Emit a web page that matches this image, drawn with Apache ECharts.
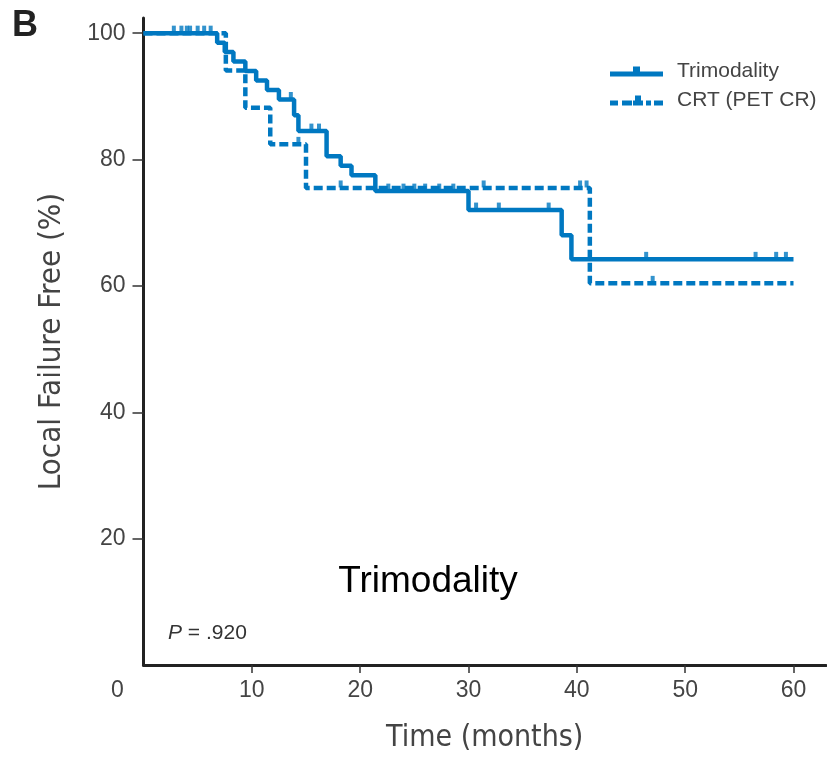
<!DOCTYPE html>
<html>
<head>
<meta charset="utf-8">
<script src="https://cdn.jsdelivr.net/npm/echarts@6.0.0/dist/echarts.min.js"></script>
<style>
  html, body { margin: 0; padding: 0; background: #fff; }
  #chart { width: 827px; height: 759px; }
</style>
</head>
<body>
<div id="chart"></div>
<script>
// Kaplan-Meier steps (time in months, % local failure free)
const trimoTimes = [0, 6.8, 7.5, 8.3, 9.4, 10.4, 11.4, 12.5, 13.9, 14.3, 16.9, 18.2, 19.2, 21.4, 30.0, 38.6, 39.5, 60];
const trimoValues = [100, 98.5, 97, 95.5, 94, 92.5, 91, 89.5, 87, 84.5, 80.5, 79, 77.5, 75, 72, 68, 64.2, 64.2];
const crtTimes = [0, 7.6, 9.4, 11.7, 15.0, 41.2, 60];
const crtValues = [100, 94.1, 88.2, 82.4, 75.5, 60.4, 60.4];

// censored observations (tick marks)
const trimoCensorTimes = [2.8, 3.5, 4.3, 5.0, 5.6, 6.2, 13.6, 15.5, 16.2, 22.6, 24.0, 25.0, 26.0, 27.3, 28.6, 30.7, 32.8, 37.4, 46.4, 56.5, 58.4, 59.3];
const trimoCensorValues = [100, 100, 100, 100, 100, 100, 89.5, 84.5, 84.5, 75, 75, 75, 75, 75, 75, 72, 72, 72, 64.2, 64.2, 64.2, 64.2];
const crtCensorTimes = [4.0, 14.3, 18.2, 31.4, 40.3, 40.9, 47.0];
const crtCensorValues = [100, 82.4, 75.5, 75.5, 75.5, 75.5, 60.4];

const xLabels = [0, 10, 20, 30, 40, 50, 60];
const xTicks = [10, 20, 30, 40, 50, 60];
const yTicks = [20, 40, 60, 80, 100];

const blue = "#0078c1";
const narrow = "'Liberation Sans Narrow', 'Arial Narrow', 'DejaVu Sans Condensed', sans-serif";
const sans = "'Liberation Sans', Arial, sans-serif";

function pairs(xs, ys) {
  return xs.map((x, i) => [x, ys[i]]);
}

const solidIcon = "path://M0,5H53V10H0Z M23,0H30V5H23Z";
const dashIcon = "path://M0,5H8V10H0Z M12,5H22V10H12Z M23,5H33V10H23Z M25,0H31V5H25Z M36,5H41V10H36Z M44,5H53V10H44Z";

const myChart = echarts.init(document.getElementById("chart"));
myChart.setOption({
  animation: false,
  grid: { left: 143.5, right: 1, top: 18, bottom: 94 },
  legend: {
    orient: "vertical",
    left: 605,
    top: 56,
    itemWidth: 53,
    itemHeight: 10,
    itemGap: 8,
    itemStyle: { borderWidth: 0 },
    data: [
      { name: "Trimodality", icon: solidIcon },
      { name: "CRT (PET CR)", icon: dashIcon }
    ],
    textStyle: { fontSize: 21, color: "#444", fontFamily: sans, padding: [0, 0, 0, 9] }
  },
  xAxis: {
    type: "value",
    min: 0,
    max: 63,
    name: "Time (months)",
    nameLocation: "middle",
    nameGap: 58,
    nameTextStyle: { fontSize: 30, color: "#444", fontFamily: narrow },
    axisLine: { lineStyle: { color: "#222", width: 3 } },
    axisTick: { show: true, length: 8, customValues: xTicks, lineStyle: { color: "#333", width: 1.5 } },
    axisLabel: {
      customValues: xLabels,
      margin: 14,
      fontSize: 23,
      color: "#444",
      fontFamily: sans,
      // the "0" sits left of the axis corner in the original
      formatter: function (v) {
        return v === 0 ? "{z|0}" : String(v);
      },
      rich: { z: { fontSize: 23, color: "#444", fontFamily: sans, padding: [0, 52, 0, 0] } }
    },
    splitLine: { show: false }
  },
  yAxis: {
    type: "value",
    min: 0,
    max: 102.4,
    name: "Local Failure Free (%)",
    nameLocation: "middle",
    nameGap: 76,
    nameTextStyle: { fontSize: 31, color: "#444", fontFamily: narrow },
    axisLine: { show: true, lineStyle: { color: "#222", width: 3 } },
    axisTick: { show: true, length: 11, customValues: yTicks, lineStyle: { color: "#333", width: 1.5 } },
    axisLabel: { customValues: yTicks, margin: 18, fontSize: 23, color: "#444", fontFamily: sans },
    splitLine: { show: false }
  },
  graphic: [
    {
      type: "text", left: 12, top: 8,
      style: { text: "B", fontSize: 36, fontWeight: "bold", fill: "#222", fontFamily: sans }
    },
    {
      type: "text", x: 428, y: 582,
      style: { text: "Trimodality", fontSize: 37, fill: "#000", fontFamily: sans, align: "center", verticalAlign: "middle" }
    },
    {
      type: "text", x: 168, y: 633,
      style: {
        text: "{i|P} = .920",
        fontSize: 21, fill: "#333", fontFamily: sans, verticalAlign: "middle",
        rich: { i: { fontStyle: "italic", fontSize: 21, fill: "#333", fontFamily: sans } }
      }
    }
  ],
  series: [
    {
      name: "Trimodality",
      type: "line",
      step: "end",
      showSymbol: false,
      color: blue,
      lineStyle: { color: blue, width: 4.5 },
      data: pairs(trimoTimes, trimoValues)
    },
    {
      name: "CRT (PET CR)",
      type: "line",
      step: "end",
      showSymbol: false,
      color: blue,
      lineStyle: { color: blue, width: 4.5, type: [9, 4] },
      data: pairs(crtTimes, crtValues)
    },
    {
      name: "trimo censored",
      type: "scatter",
      symbol: "rect",
      symbolSize: [4, 7],
      symbolOffset: [0, -4],
      itemStyle: { color: blue },
      data: pairs(trimoCensorTimes, trimoCensorValues)
    },
    {
      name: "crt censored",
      type: "scatter",
      symbol: "rect",
      symbolSize: [4, 7],
      symbolOffset: [0, -4],
      itemStyle: { color: blue },
      data: pairs(crtCensorTimes, crtCensorValues)
    }
  ]
});
</script>
</body>
</html>
